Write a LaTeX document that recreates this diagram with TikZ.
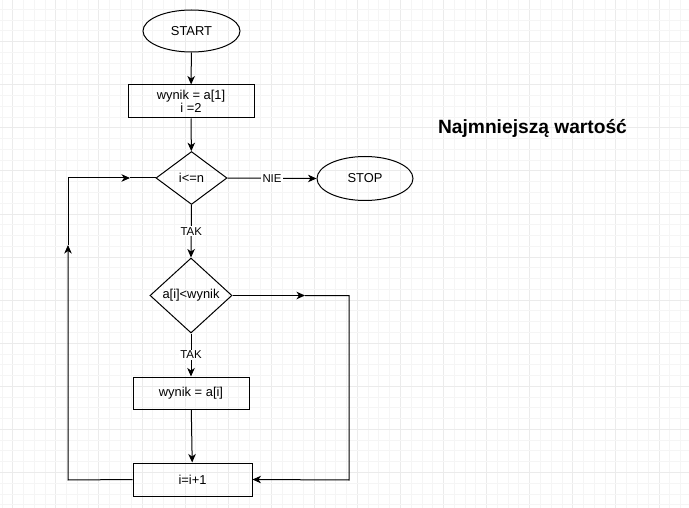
\documentclass[tikz,border=0pt]{standalone}
\usepackage{fontspec}
\setmainfont{Liberation Sans}
\usetikzlibrary{shapes.geometric,arrows.meta}
\begin{document}
\begin{tikzpicture}[x=1pt,y=-1pt,
  line width=1pt,
  every node/.style={font=\fontsize{12.9}{15}\selectfont, text=black},
  term/.style={ellipse, draw, minimum width=97pt, minimum height=42pt, inner sep=0pt},
  procbox/.style={rectangle, draw, inner sep=0pt, align=center},
  decis/.style={diamond, draw, inner sep=0pt},
  lbl/.style={fill=white, inner sep=1pt, font=\fontsize{11.4}{13}\selectfont},
  arr/.style={-{Stealth[length=8.5pt,width=7.5pt,inset=2.5pt]}},
  gridminor/.style={line width=0.8pt, draw=black!4},
  gridmajor/.style={line width=0.8pt, draw=black!8}
]
\useasboundingbox (0,0) rectangle (689,508);
\fill[white] (0,0) rectangle (689,508);
% background grid
\foreach \k in {0,...,64} {
  \pgfmathsetmacro{\xx}{12.7+\k*10.77}
  \pgfmathtruncatemacro{\mm}{mod(\k,4)}
  \ifnum\mm=0
    \draw[gridmajor] (\xx,0) -- (\xx,508);
  \else
    \draw[gridminor] (\xx,0) -- (\xx,508);
  \fi
}
\draw[gridminor] (1.93,0) -- (1.93,508);
\foreach \k in {0,...,47} {
  \pgfmathsetmacro{\yy}{9.3+\k*10.77}
  \pgfmathtruncatemacro{\mm}{mod(\k,4)}
  \ifnum\mm=3
    \draw[gridmajor] (0,\yy) -- (689,\yy);
  \else
    \draw[gridminor] (0,\yy) -- (689,\yy);
  \fi
}

% nodes
\node[term] (start) at (191.5,31) {START};
\node[procbox, minimum width=126pt, minimum height=33pt] (b1) at (191,101.5) {wynik = a[1]\\[-2pt] i =2};
\node[decis, minimum width=71pt, minimum height=53pt] (d1) at (191.5,178) {i<=n};
\node[term, minimum width=96pt, minimum height=44pt] (stop) at (365,178.5) {STOP};
\node[decis, minimum width=82pt, minimum height=75pt] (d2) at (191,295.5) {a[i]<wynik};
\node[procbox, minimum width=116pt, minimum height=32pt] (b2) at (191,393) {wynik = a[i]};
\node[procbox, minimum width=119pt, minimum height=33pt] (b3) at (192.5,479.5) {i=i+1};

\node[font=\bfseries\fontsize{19.2}{22}\selectfont] (title) at (532.5,128.5) {Najmniejszą wartość};

% helper coordinates
\coordinate (r1) at (349,295.5);
\coordinate (r1a) at (305,295.5);
\coordinate (r2) at (349,480);
\coordinate (l1) at (68,480);
\coordinate (l1a) at (68,245);
\coordinate (l2) at (68,178);
\coordinate (l2a) at (130,178);

% connectors
\draw[arr] (start) -- (b1);
\draw[arr] (b1) -- (d1);
\draw[arr] (d1.east) -- node[lbl, pos=0.5] {NIE} (stop.west);
\draw[arr] (d1.south) -- node[lbl, pos=0.5] {TAK} (d2.north);
\draw[arr] (d2.south) -- node[lbl, pos=0.5] {TAK} (b2.north);
\draw[arr] (b2) -- (b3);
\draw[arr] (d2.east) -- (r1a);
\draw[arr] (r1a) -- (r1) -- (r2) -- (b3.east);
\draw[arr] (b3.west) -- (l1) -- (l1a);
\draw[arr] (l1a) -- (l2) -- (l2a);
\draw (l2a) -- (d1.west);
\end{tikzpicture}
\end{document}
